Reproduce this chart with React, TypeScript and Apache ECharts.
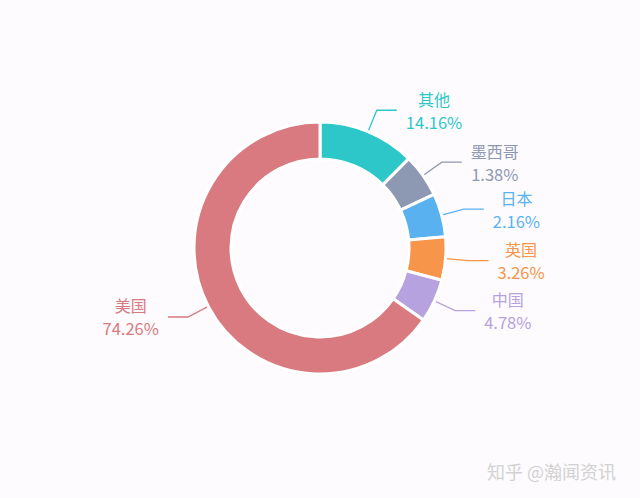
import React, { useEffect, useRef } from "react";
import * as echarts from "echarts";

const names = ["其他", "墨西哥", "日本", "英国", "中国", "美国"];
const values = [14.16, 1.38, 2.16, 3.26, 4.78, 74.26];
const colors = ["#2ec7c9", "#8d98b3", "#5ab1ef", "#f7954a", "#b6a2de", "#d87a80"];
const watermark = "知乎 @瀚闻资讯";

export default function App() {
  const ref = useRef<HTMLDivElement>(null);
  useEffect(() => {
    if (!ref.current) return;
    const chart = echarts.init(ref.current, undefined, { renderer: "svg" });
    const font = '"Microsoft YaHei", "Noto Sans CJK SC", sans-serif';
    chart.setOption({
      animation: false,
      backgroundColor: "#fdfbfd",
      graphic: [
        {
          type: "text",
          left: 487,
          top: 462,
          style: {
            text: watermark,
            fill: "#d2d2d2",
            font: `18px ${font}`,
            textShadowColor: "#ffffff",
            textShadowOffsetX: 1,
            textShadowOffsetY: 1,
            textShadowBlur: 0,
          },
        },
      ],
      series: [
        {
          type: "pie",
          center: [320, 248],
          radius: [89, 126],
          startAngle: 90,
          minAngle: 20,
          avoidLabelOverlap: false,
          itemStyle: { borderColor: "#ffffff", borderWidth: 3 },
          label: {
            show: true,
            position: "outside",
            distanceToLabelLine: 9,
            formatter: "{n|{b}}\n{p|{d}%}",
            fontFamily: font,
            rich: {
              n: { fontSize: 16, lineHeight: 23, align: "center", fontFamily: font },
              p: { fontSize: 16.5, lineHeight: 23, align: "center", fontFamily: font },
            },
          },
          labelLine: { show: true, length: 23, length2: 20, lineStyle: { width: 1.3 } },
          data: names.map((n, i) => ({
            name: n,
            value: values[i],
            itemStyle: { color: colors[i] },
            label: { color: colors[i] },
            labelLine: { lineStyle: { color: colors[i] } },
          })),
        },
      ],
    });
    return () => chart.dispose();
  }, []);
  return (
    <div
      ref={ref}
      style={{ position: "fixed", left: 0, top: 0, width: 640, height: 498 }}
    />
  );
}
